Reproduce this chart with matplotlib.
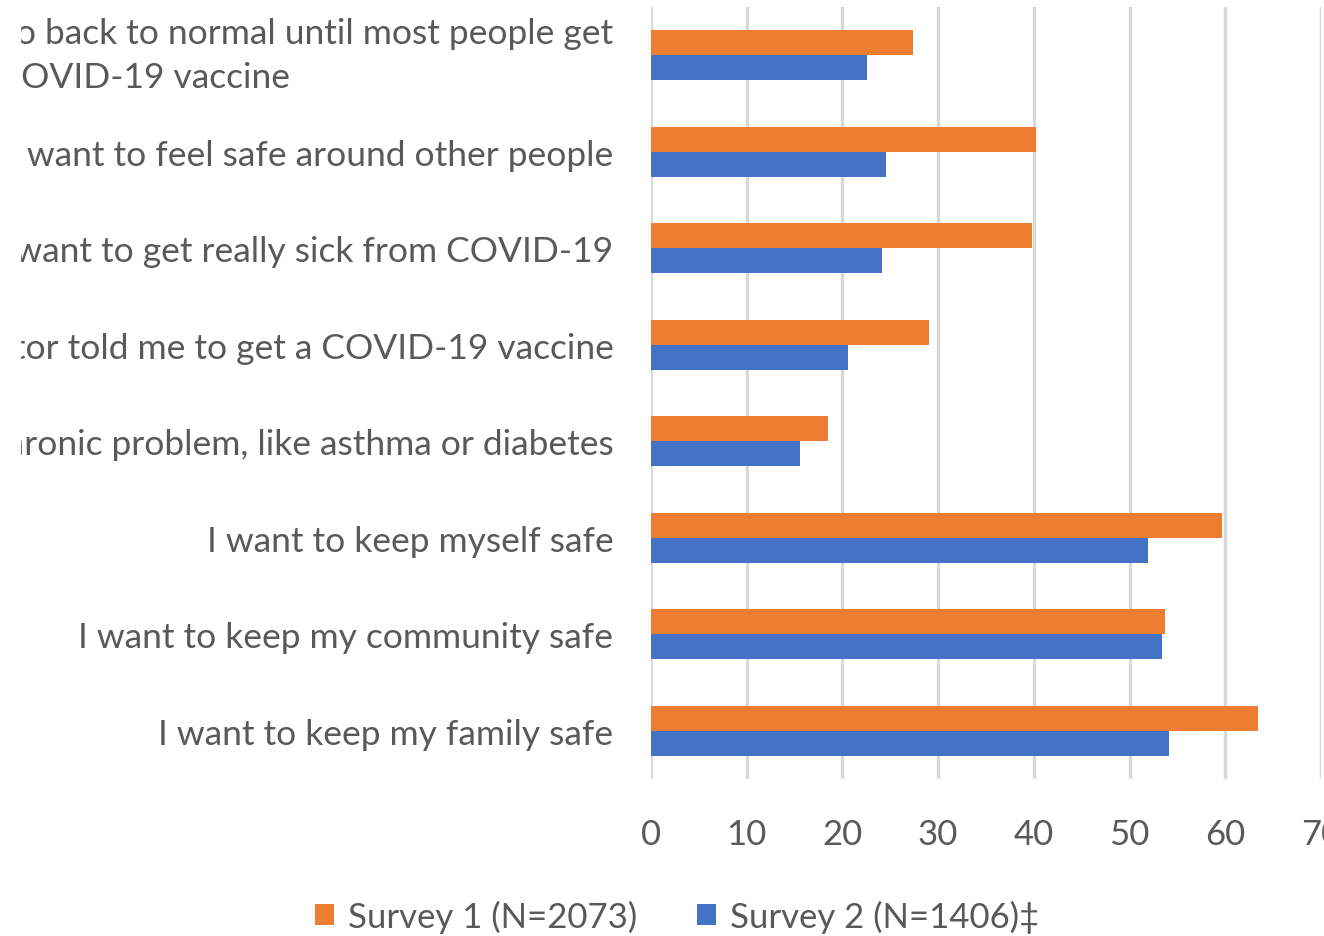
import matplotlib.pyplot as plt
from matplotlib.patches import Rectangle
import numpy as np

plt.rcParams['font.family'] = ['Lato', 'DejaVu Sans']

# categories, bottom to top as drawn
reasons = [
    "I want to keep my family safe",
    "I want to keep my community safe",
    "I want to keep myself safe",
    "I have a chronic problem, like asthma or diabetes",
    "My doctor told me to get a COVID-19 vaccine",
    "I don't want to get really sick from COVID-19",
    "I want to feel safe around other people",
    "We will not be able to go back to normal until most people get\na COVID-19 vaccine",
]
survey1 = [63.4, 53.7, 59.7, 18.5, 29.0, 39.8, 40.2, 27.4]
survey2 = [54.1, 53.4, 51.9, 15.6, 20.6, 24.1, 24.5, 22.6]
xticks = [0, 10, 20, 30, 40, 50, 60, 70]

orange = '#ED7D31'
blue = '#4472C4'
grey_txt = '#595959'

fig = plt.figure(figsize=(13.24, 9.37), dpi=100)
ax = fig.add_axes([651 / 1324, 1 - 780 / 937, 670 / 1324, 772 / 937])

y = np.arange(len(reasons))
h = 0.26
ax.barh(y + h / 2, survey1, height=h, color=orange, label='Survey 1 (N=2073)', zorder=3)
ax.barh(y - h / 2, survey2, height=h, color=blue, label='Survey 2 (N=1406)\u2021', zorder=3)

ax.set_xlim(0, 70)
ax.set_ylim(-0.5, len(reasons) - 0.5)
ax.set_xticks(xticks)
ax.set_yticks(y)
ax.set_yticklabels(reasons, multialignment='center', linespacing=1.45)
ax.get_yticklabels()[-1].set_va('center')
ax.grid(axis='x', color='#d9d9d9', linewidth=2.5, zorder=0)
ax.set_axisbelow(True)
for s in ax.spines.values():
    s.set_visible(False)
ax.tick_params(axis='both', length=0, colors=grey_txt)
ax.tick_params(axis='y', pad=27, labelsize=25.5)
ax.tick_params(axis='x', pad=28, labelsize=25)

# the source image is cropped: labels are cut a little in from the left edge
fig.patches.append(Rectangle((0, 1 - 800 / 937), 20 / 1324, 800 / 937,
                             transform=fig.transFigure, color='white', zorder=10))

fig.legend(loc='center', bbox_to_anchor=(677 / 1324, 1 - 917 / 937), ncol=2,
           frameon=False, fontsize=25, labelcolor=grey_txt,
           handlelength=0.55, handleheight=0.55, handletextpad=0.4, columnspacing=1.7)

fig.savefig('out.png', dpi=100)
